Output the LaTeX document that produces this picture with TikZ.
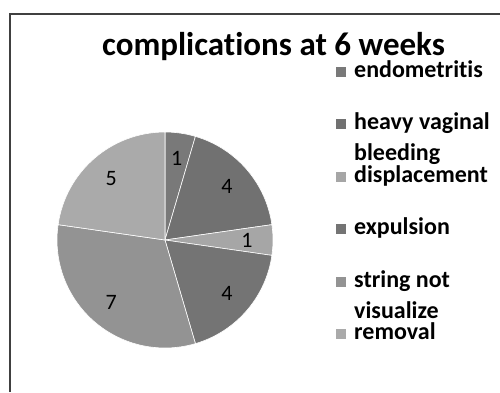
\documentclass[tikz,border=0pt]{standalone}
\usepackage{fontspec}
\setmainfont{Carlito}[Ligatures=NoCommon]
\definecolor{endoGray}{gray}{0.475}
\definecolor{bleedGray}{gray}{0.445}
\definecolor{displGray}{gray}{0.65}
\definecolor{expulGray}{gray}{0.455}
\definecolor{stringGray}{gray}{0.575}
\definecolor{removGray}{gray}{0.665}

\begin{document}
\begin{tikzpicture}[x=1pt, y=-1pt,
  slice/.style={draw=white, line width=0.6pt},
  count/.style={font=\fontsize{22}{26}\selectfont, inner sep=0pt},
  legkey/.style={minimum size=10pt, inner sep=0pt},
  leglabel/.style={font=\bfseries\fontsize{24}{31}\selectfont, align=left, inner sep=0pt, anchor=base west}]
\useasboundingbox (0,0) rectangle (500,392);
\draw[black!75, line width=2pt] (10,392) -- (10,14) -- (500,14);
\node[font=\bfseries\fontsize{33}{40}\selectfont, anchor=base] (title) at (273.5,55) {complications at 6 weeks};

\coordinate (centre) at (165,240);
\foreach \from/\to/\col/\mid/\num [count=\i] in {90/73.64/endoGray/81.82/1, 73.64/8.18/bleedGray/40.91/4,
    8.18/-8.18/displGray/0/1, -8.18/-73.64/expulGray/-40.91/4,
    -73.64/-188.18/stringGray/-130.91/7, -188.18/-270/removGray/-229.09/5} {
  \fill[slice, fill=\col] (centre) -- ++(\from:108pt) arc[start angle=\from, end angle=\to, radius=108pt] -- cycle;
  \node[count] (num\i) at ([shift={(\mid:82pt)}]centre) {\num};
}

\foreach \col/\txt/\lines [count=\i] in {endoGray/endometritis/0, bleedGray/{heavy vaginal\\bleeding}/1,
    displGray/displacement/0, expulGray/expulsion/0, stringGray/{string not\\visualize}/1, removGray/removal/0} {
  \pgfmathsetmacro\base{77+52.5*(\i-1)}
  \node[legkey, fill=\col] (key\i) at (341,\base-5.5) {};
  \node[leglabel] (entry\i) at (354,\base+31*\lines) {\txt};
}
\end{tikzpicture}
\end{document}
